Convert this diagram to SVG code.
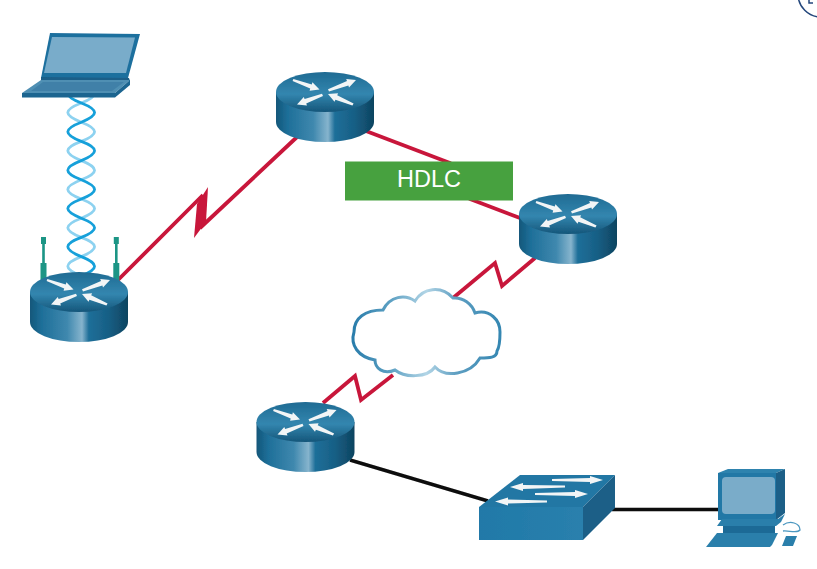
<svg xmlns="http://www.w3.org/2000/svg" width="817" height="569" viewBox="0 0 817 569">
<style>
.red{fill:none;stroke:#c8173a;stroke-width:3.8;stroke-linejoin:miter;stroke-miterlimit:12}
.redf{fill:#c8173a}
.blk{fill:none;stroke:#0a0a0a;stroke-width:3.4}
.wh{fill:#f2f5f6}
.ant{fill:#1b9585}
.soft{filter:url(#soft)}
</style>
<defs>
<filter id="soft" x="-5%" y="-5%" width="110%" height="110%"><feGaussianBlur stdDeviation=".5"/></filter>
<linearGradient id="rb" x1="0" x2="1" y1="0" y2="0">
<stop offset="0" stop-color="#13577a"/><stop offset=".12" stop-color="#1e6f99"/><stop offset=".38" stop-color="#3f88ae"/><stop offset=".53" stop-color="#86b4cd"/><stop offset=".6" stop-color="#1f6f99"/><stop offset=".8" stop-color="#175f85"/><stop offset="1" stop-color="#0e4460"/>
</linearGradient>
<linearGradient id="rt" x1="0" x2="0" y1="0" y2="1">
<stop offset="0" stop-color="#1f6b93"/><stop offset=".55" stop-color="#3386af"/><stop offset="1" stop-color="#15567a"/>
</linearGradient>
<linearGradient id="cl" x1="0" x2="1" y1="0" y2="0">
<stop offset="0" stop-color="#2a7dab"/><stop offset=".25" stop-color="#5b9fc2"/><stop offset=".5" stop-color="#b2d5e6"/><stop offset=".7" stop-color="#5f9fc2"/><stop offset="1" stop-color="#3587b2"/>
</linearGradient>
<linearGradient id="sw" x1="0" x2="1" y1="0" y2="0">
<stop offset="0" stop-color="#2079a8"/><stop offset="1" stop-color="#2a80ad"/>
</linearGradient>
<g id="router">
<path d="M-49 0V30A49 20 0 0 0 49 30V0Z" fill="url(#rb)"/>
<ellipse rx="49" ry="20" fill="url(#rt)"/>
<path class="wh" d="M-31.600 -13.100L-13.200 -7.600L-12.600 -9.800L-5.500 -2.500L-15.400 -1.200L-14.800 -3.400L-32.400 -10.900Z"/>
<path class="wh" d="M3 -2.800L22 -11L21.200 -13L31 -12L24 -4.600L23.400 -6.600L4 -.4Z"/>
<path class="wh" d="M-3 1.700L-20.400 7.100L-21.200 5.100L-28 12.500L-18 13.500L-18.800 11.500L-2 4Z"/>
<path class="wh" d="M28.600 11.500L12.200 3.300L13.100 1.300L3 2L9.500 9.700L10.400 7.700L27.400 13.500Z"/>
</g>
</defs>

<g id="connectors" class="soft">
<path class="red" d="M118 280L203 195M200 228L297 137"/>
<path class="redf" d="M208 187L206 222L194 238L197 204Z"/>
<path class="red" d="M366 131L450 163L470 199L520 218"/>
<path class="red" d="M453 298L495 263L502 286L535 258"/>
<path class="red" d="M323 403L355 376L361 400L393 375"/>
<path class="blk" d="M350 460L488 501"/>
<path class="blk" d="M612 509.500H720"/>
<g id="wireless" fill="none">
<path stroke="#8dd2f0" stroke-width="2.800" d="M81.300 83.800C99 91 99 96 81.300 103C63.300 110 63.300 115 81.300 122.200C99 129 99 134.500 81.300 141.400C63.300 148 63.300 153.500 81.300 160.600C99 167.500 99 173 81.300 179.800C63.300 187 63.300 192 81.300 199C99 206 99 211 81.300 218.200C63.300 225 63.300 230.500 81.300 237.400C99 244 99 249.500 81.300 256.600C63.300 263.500 63.300 269 81.300 275.800"/>
<path stroke="#14a0da" stroke-width="2.800" d="M81.300 83.800C63.300 91 63.300 96 81.300 103C99 110 99 115 81.300 122.200C63.300 129 63.300 134.500 81.300 141.400C99 148 99 153.500 81.300 160.600C63.300 167.500 63.300 173 81.300 179.800C99 187 99 192 81.300 199C63.300 206 63.300 211 81.300 218.200C99 225 99 230.500 81.300 237.400C63.300 244 63.300 249.500 81.300 256.600C99 263.500 99 269 81.300 275.800"/>
</g>
</g>

<g id="laptop" class="soft">
<path d="M50 33L140 34L128 78L41 78Z" fill="#1f6f9e"/>
<path d="M52 37L135 37.500L126 73L44 73Z" fill="#79acca"/>
<path d="M41 77L129 78L130 81L41 81Z" fill="#1a5f88"/>
<path d="M41 80H130L115 93H22Z" fill="#4f8fb3"/>
<path d="M43 82H124L112 91H31Z" fill="#4080a8"/>
<path d="M22 93H115L130 80V85L115 97.500H22Z" fill="#1c6590"/>
</g>

<g id="router-wireless" class="soft">
<rect class="ant" x="41" y="237" width="5" height="7"/>
<rect class="ant" x="42.200" y="244" width="2.600" height="20"/>
<rect class="ant" x="40.500" y="263" width="6" height="20"/>
<rect class="ant" x="113.800" y="237" width="5" height="7"/>
<rect class="ant" x="115" y="244" width="2.600" height="20"/>
<rect class="ant" x="113.300" y="263" width="6" height="20"/>
<use href="#router" x="79" y="292"/>
</g>
<g id="router-top" class="soft"><use href="#router" x="325" y="92"/></g>
<g id="router-right" class="soft"><use href="#router" x="568" y="214"/></g>
<g id="router-bottom" class="soft"><use href="#router" x="305.500" y="422"/></g>

<g id="cloud" class="soft">
<path fill="#fff" stroke="url(#cl)" stroke-width="3" d="M415 301C423 288 441 285 453 298C463 297 472 304 475 313C490 309 500 320 500 332C500 340 499 348 497 351C497 358 489 358 480 358C470 375 445 378 435 367C427 378 405 378 395 370C383 375 375 368 375 360C358 357 350 345 354 332C354 318 365 310 383 310C390 296 405 294 415 301Z"/>
</g>

<g id="hdlc">
<rect x="345" y="161.500" width="168" height="39" fill="#47a13f"/>
<text x="429" y="186.500" text-anchor="middle" font-family="'Liberation Sans',Arial,sans-serif" font-size="23.500" fill="#fff">HDLC</text>
</g>

<g id="switch" class="soft">
<path d="M520 475H615L583 507H479Z" fill="#2377a4"/>
<path d="M479 507H583V540H479Z" fill="url(#sw)"/>
<path d="M583 507L615 475V508L583 540Z" fill="#1c5f87"/>
<path class="wh" d="M552 479L590 478V476L603 480L590 484V482L552 481Z"/>
<path class="wh" d="M510 487L523 483V485L565 485.500V487.500L523 489V491Z"/>
<path class="wh" d="M535 493L575 492V490L588 494L575 498V496L535 495Z"/>
<path class="wh" d="M495 501.500L508 497.500V499.500L547 500.500V502.500L508 503.500V505.500Z"/>
</g>

<g id="pc" class="soft">
<path d="M718 473L728 469H785L776 473Z" fill="#2d83ae"/>
<path d="M776 473L785 469V513L776 520Z" fill="#1b5f87"/>
<rect x="718" y="473" width="58" height="47" fill="#2278a6"/>
<rect x="722" y="477" width="53" height="37" rx="4" fill="#7aacc9"/>
<path d="M722 519H778L785 514L781 522L776 526H717Z" fill="#2a7fab"/>
<path d="M723 526H775V533H723Z" fill="#1b6b96"/>
<path d="M717 533H778L772 545L770 547H706Z" fill="#2a7fab"/>
<path d="M786 536H797L793 546H782Z" fill="#2a7fab"/>
<path d="M783 525C790 520 800 523 800 530C797 534 788 530 783 531" fill="none" stroke="#4b97c0" stroke-width="1.300"/>
</g>

<g id="corner-badge" fill="none" stroke="#24477c" stroke-width="1.500">
<circle cx="821" cy="-6" r="23"/>
<path d="M809 0V3H813"/>
</g>
</svg>
